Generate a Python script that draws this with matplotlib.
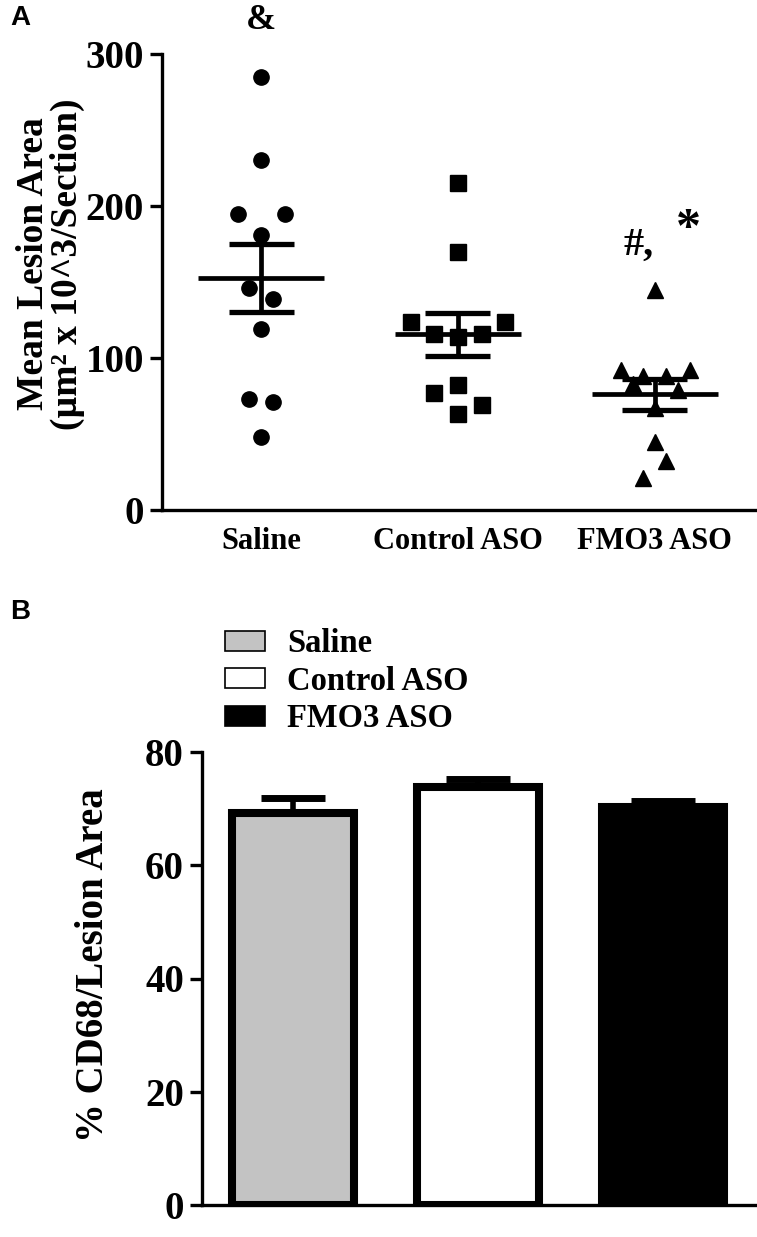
import numpy as np
import matplotlib
matplotlib.use("Agg")
import matplotlib.pyplot as plt
from matplotlib.patches import Patch


# Data
groups = ["Saline", "Control ASO", "FMO3 ASO"]

# panel A: lesion area per mouse (um^2 x 10^3 / section)
saline_pts  = [285, 230, 195, 195, 181, 146, 139, 119, 73, 71, 48]
control_pts = [215, 170, 124, 124, 116, 116, 114, 82, 77, 69, 63]
fmo3_pts    = [145, 92, 92, 88, 88, 83, 79, 67, 45, 32, 21]
# horizontal jitter of each point (category units)
saline_dx  = [0, 0, -0.12, 0.12, 0, -0.06, 0.06, 0, -0.06, 0.06, 0]
control_dx = [0, 0, -0.24, 0.24, -0.12, 0.12, 0, 0, -0.12, 0.12, 0]
fmo3_dx    = [0, -0.17, 0.18, -0.06, 0.06, -0.11, 0.12, 0, 0, 0.06, -0.06]

means_a = [152.8, 115.6, 76.1]
sem_a   = [22.3, 14.2, 10.1]

# panel B: % CD68 / lesion area
means_b = [69.3, 73.8, 70.2]
sem_b   = [2.6, 1.5, 1.2]
bar_colors = ["#c3c3c3", "white", "black"]

serif = "Liberation Serif"
plt.rcParams["font.family"] = serif
plt.rcParams["font.weight"] = "bold"

fig = plt.figure(figsize=(7.57, 12.37), dpi=100)

# ---------------- Panel A ----------------
axA = fig.add_axes([162/757, 1 - 510/1237, (755-162)/757, 456/1237])
x = np.arange(3)
sets = [(saline_pts, saline_dx, "o", 11), (control_pts, control_dx, "s", 12), (fmo3_pts, fmo3_dx, "^", 12)]
for i, (pts, dx, mk, ms) in enumerate(sets):
    axA.plot(np.array(dx) + x[i], pts, linestyle="none", marker=mk, ms=ms, color="black", clip_on=False)

for i in range(3):
    axA.plot([x[i] - 0.32, x[i] + 0.32], [means_a[i]] * 2, color="black", lw=3.4, solid_capstyle="butt")
    lo, hi = means_a[i] - sem_a[i], means_a[i] + sem_a[i]
    axA.plot([x[i], x[i]], [lo, hi], color="black", lw=3.4, solid_capstyle="butt")
    for yy in (lo, hi):
        axA.plot([x[i] - 0.165, x[i] + 0.165], [yy] * 2, color="black", lw=3.8, solid_capstyle="butt")

axA.set_xlim(-0.504, 2.51)
axA.set_ylim(0, 300)
axA.set_yticks([0, 100, 200, 300])
axA.set_xticks(x)
axA.set_xticklabels(groups, fontsize=22, fontweight="bold")
axA.tick_params(axis="x", length=0, pad=12)
axA.tick_params(axis="y", length=9, width=2.4, labelsize=28, pad=4)
for lab in axA.get_yticklabels():
    lab.set_fontweight("bold")
for s in ["top", "right"]:
    axA.spines[s].set_visible(False)
for s in ["left", "bottom"]:
    axA.spines[s].set_linewidth(2.4)
axA.set_ylabel("Mean Lesion Area\n(µm² x 10^3/Section)", fontsize=27, fontweight="bold", linespacing=0.95)
axA.yaxis.set_label_coords(-0.13, 0.54)

axA.text(0, 322, "&", ha="center", va="center", fontsize=26, fontweight="bold", clip_on=False)
axA.text(1.92, 174, "#,", ha="center", va="center", fontsize=29, fontweight="bold")
axA.text(2.17, 184, "*", ha="center", va="center", fontsize=36, fontweight="bold")

# ---------------- Panel B ----------------
axB = fig.add_axes([202/757, 1 - 1205/1237, (755-202)/757, 453/1237])
axB.bar(x, means_b, width=0.66, color=bar_colors, edgecolor="black", linewidth=5.8, zorder=2)
axB.errorbar(x, means_b, yerr=[np.zeros(3), sem_b], fmt="none", ecolor="black",
             elinewidth=4, capsize=23, capthick=5, zorder=1)
axB.set_xlim(-0.492, 2.497)
axB.set_ylim(0, 80)
axB.set_yticks([0, 20, 40, 60, 80])
axB.set_xticks([])
axB.tick_params(axis="y", length=9, width=2.4, labelsize=28, pad=4)
for lab in axB.get_yticklabels():
    lab.set_fontweight("bold")
for s in ["top", "right"]:
    axB.spines[s].set_visible(False)
for s in ["left", "bottom"]:
    axB.spines[s].set_linewidth(2.4)
axB.set_ylabel("% CD68/Lesion Area", fontsize=28, fontweight="bold")
axB.yaxis.set_label_coords(-0.163, 0.53)

handles = [Patch(facecolor=c, edgecolor="black", linewidth=1.2) for c in bar_colors]
leg = fig.legend(handles, groups, loc="upper left", bbox_to_anchor=(209/757, 1 - 612/1237),
                 frameon=False, fontsize=23.5, handlelength=1.23, handleheight=0.55,
                 handletextpad=0.67, labelspacing=0.2, borderpad=0)

fig.text(10/757, 1 - 18/1237, "A", fontsize=20, fontweight="bold", family="Liberation Sans", va="center")
fig.text(10/757, 1 - 612/1237, "B", fontsize=20, fontweight="bold", family="Liberation Sans", va="center")

fig.savefig("out.png", dpi=100)
